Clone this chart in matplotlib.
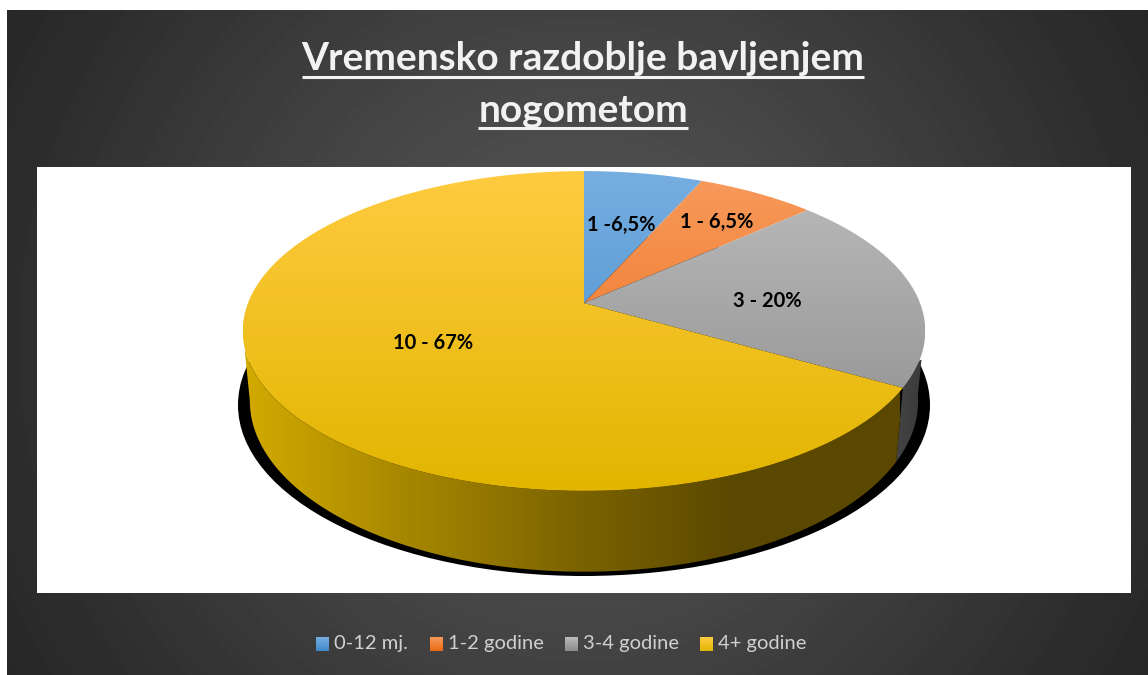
"""Vremensko razdoblje bavljenjem nogometom - 3D pie."""

from __future__ import annotations

import matplotlib

matplotlib.use("Agg")
import matplotlib.pyplot as plt
import numpy as np
from matplotlib.colors import to_rgb
from matplotlib.patches import Ellipse, Polygon, Rectangle

categories = ["0-12 mj.", "1-2 godine", "3-4 godine", "4+ godine"]
values = [1, 1, 3, 10]
slice_labels = ["1 -6,5%", "1 - 6,5%", "3 - 20%", "10 - 67%"]
title_lines = ["Vremensko razdoblje bavljenjem", "nogometom"]

W, H = 1148, 675
FONT = "Lato"
GRAD_TOP = ["#76aee0", "#f89a5c", "#bcbcbc", "#ffcb40"]
GRAD_BOTTOM = ["#3f8acb", "#ea6a12", "#8a8a8a", "#e2b500"]
PERSP = 0.175


def top_face(theta: np.ndarray) -> tuple[np.ndarray, np.ndarray]:
    u, v = np.sin(theta), np.cos(theta)
    d = 1 + PERSP * v
    return 584 + 336 * u / d, 303 - 155 * v / d


def bottom_face(theta: np.ndarray) -> tuple[np.ndarray, np.ndarray]:
    u, v = np.sin(theta), np.cos(theta)
    d = 1 + PERSP * v
    return 584 + 329 * u / d, 371 - 165.6 * v / d


def _gradient(ax, clip_xy, extent, stops, horizontal=False, zorder=2):
    """Fill a polygon with a linear gradient through the given colour stops."""
    patch = Polygon(clip_xy, closed=True, fc="none", ec="none", zorder=zorder)
    ax.add_patch(patch)
    pos = np.linspace(0, 1, 256)
    where = np.linspace(0, 1, len(stops))
    rgb = np.array([to_rgb(c) for c in stops])
    ramp = np.stack([np.interp(pos, where, rgb[:, i]) for i in range(3)], axis=-1)
    img = ramp[None, :, :] if horizontal else ramp[:, None, :]
    im = ax.imshow(img, extent=extent, origin="upper", aspect="auto", zorder=zorder,
                   interpolation="bilinear")
    im.set_clip_path(patch)


def _side_wall(ax, start, end, extent, stops):
    theta = np.linspace(start, end, 120)
    tx, ty = top_face(theta)
    bx, by = bottom_face(theta[::-1])
    xy = np.column_stack([np.r_[tx, bx], np.r_[ty, by]])
    _gradient(ax, xy, extent, stops, horizontal=True, zorder=3)


def main() -> None:
    fig = plt.figure(figsize=(W / 100, H / 100), dpi=100, facecolor="white")
    ax = fig.add_axes([0, 0, 1, 1])
    ax.set_axis_off()

    # radial dark background
    yy, xx = np.mgrid[10:H, 7:W]
    dist = np.hypot(xx - 577, yy - 340)
    level = np.interp(dist, [0, 200, 330, 557, 680], [0x50, 0x4c, 0x42, 0x2e, 0x26]) / 255
    ax.imshow(level, extent=(7, W, H, 10), cmap="gray", vmin=0, vmax=1, aspect="auto",
              zorder=0, interpolation="bilinear")
    ax.add_patch(Rectangle((37, 167), 1094, 426, fc="white", ec="none", zorder=1))

    # shadow under the pie
    ax.add_patch(Ellipse((584, 405), 692, 342, fc="black", ec="none", zorder=2))

    # slice angles, clockwise from twelve o'clock
    shares = np.array(values, dtype=float) / sum(values)
    edges = np.r_[0, np.cumsum(shares)] * 2 * np.pi

    _side_wall(ax, np.radians(98), edges[3], (890, 925, 480, 360), ["#454545", "#3a3a3a"])
    _side_wall(ax, edges[3], np.radians(260), (245, 900, 580, 330),
               ["#d2aa00", "#a68600", "#7c6400", "#5b4800", "#5b4800"])

    for idx in range(len(values)):
        theta = np.linspace(edges[idx], edges[idx + 1], 160)
        x, y = top_face(theta)
        xy = np.column_stack([np.r_[584, x], np.r_[303, y]])
        _gradient(ax, xy, (243, 925, 491, 171), [GRAD_TOP[idx], GRAD_BOTTOM[idx]], zorder=4)

    label_pos = [(621, 225), (717, 222), (767, 301), (433, 343)]
    for text, (lx, ly) in zip(slice_labels, label_pos):
        ax.text(lx, ly, text, ha="center", va="center", fontsize=14.5, fontweight="bold",
                color="black", family=FONT, zorder=6)

    # title with hand drawn underline, matplotlib has no underline style
    titles = []
    for line, ty in zip(title_lines, [59, 110]):
        titles.append(ax.text(583, ty, line, ha="center", va="center", fontsize=28,
                              fontweight="bold", color="#f2f2f2", family=FONT, zorder=6))
    ax.set_xlim(0, W)
    ax.set_ylim(H, 0)
    fig.canvas.draw()
    renderer = fig.canvas.get_renderer()
    for text, uy in zip(titles, [76.5, 127.5]):
        box = text.get_window_extent(renderer).transformed(ax.transData.inverted())
        ax.plot([box.x0, box.x1], [uy, uy], color="#f2f2f2", lw=2.2, solid_capstyle="butt", zorder=6)

    # legend
    swatch_x = [316, 430, 565, 700]
    for idx, (name, sx) in enumerate(zip(categories, swatch_x)):
        corners = [(sx, 637), (sx + 13, 637), (sx + 13, 651), (sx, 651)]
        _gradient(ax, corners, (sx, sx + 13, 651, 637), [GRAD_TOP[idx], GRAD_BOTTOM[idx]], zorder=5)
        ax.text(sx + 18, 644, name, ha="left", va="center", fontsize=14.5, color="#d0d0d0",
                family=FONT, zorder=6)

    ax.set_xlim(0, W)
    ax.set_ylim(H, 0)
    fig.savefig("out.png", dpi=100, facecolor="white")
    plt.close(fig)


if __name__ == "__main__":
    main()
